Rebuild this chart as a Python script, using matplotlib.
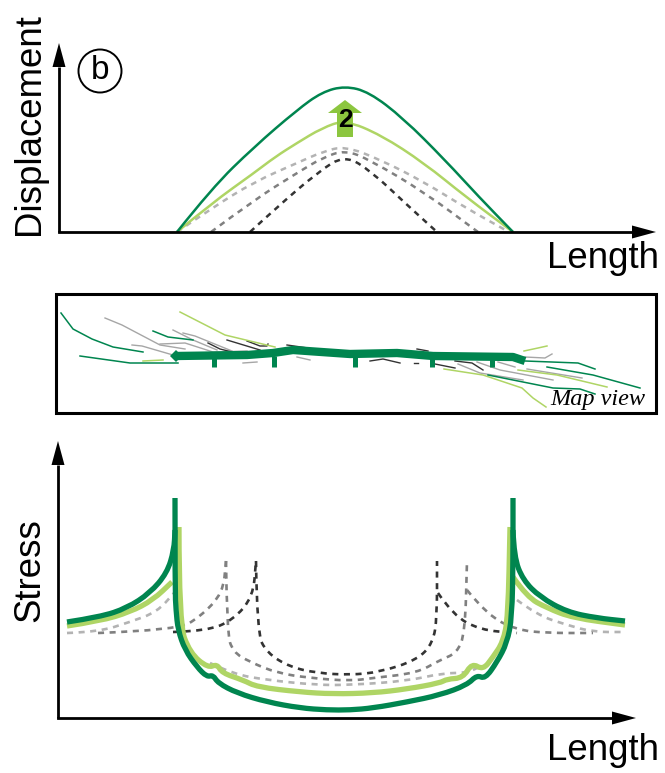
import matplotlib
matplotlib.use('Agg')
import matplotlib.pyplot as plt
from matplotlib.path import Path
from matplotlib.patches import PathPatch, Ellipse, Polygon

plt.rcParams['font.family'] = ['Liberation Sans', 'DejaVu Sans']

DARK_GREEN = '#00854F'
LIGHT_GREEN = '#AFD565'
ARROW_GREEN = '#8CC63F'
GRAY_1 = '#B3B3B3'
GRAY_2 = '#808080'
GRAY_3 = '#333333'

# Desplazamiento (x, fila en la imagen)
disp_dark_x = [177, 212, 254, 297, 322, 345, 369, 403, 445, 479, 513]
disp_dark_y = [232, 188, 147, 110, 92, 86, 92, 118, 160, 197, 232]
disp_light_x = [177, 212, 254, 275, 297, 322, 345, 381, 424, 466, 513]
disp_light_y = [232, 203, 173, 157, 143, 128, 120, 135, 163, 197, 232]
disp_g1_x = [177, 212, 254, 297, 322, 345, 381, 424, 466, 509]
disp_g1_y = [232, 208, 182, 163, 152, 146, 160, 182, 208, 232]
disp_g2_x = [211, 254, 297, 322, 345, 370, 424, 478]
disp_g2_y = [232, 200, 173, 158, 150, 160, 192, 232]
disp_g3_x = [250, 275, 318, 345, 372, 405, 437]
disp_g3_y = [232, 209, 172, 155, 172, 203, 232]

# Esfuerzo
st_dark_x = [67, 100, 127, 150, 167, 174, 175]
st_dark_y = [622, 617, 608, 593, 573, 550, 530]
st_dark2_x = [175, 175, 176, 178, 185, 197, 207, 213, 218, 237, 267, 300, 327, 350,
              373, 407, 440, 467, 477, 485, 497, 507, 512, 513, 513]
st_dark2_y = [498, 590, 610, 630, 650, 667, 677, 675, 683, 693, 702, 708, 710, 710,
              708, 702, 695, 685, 675, 679, 662, 643, 617, 560, 498]
st_dark3_x = [513, 514, 523, 540, 567, 597, 625]
st_dark3_y = [530, 557, 580, 597, 612, 618, 621]
st_light_x = [67, 100, 130, 153, 172]
st_light_y = [626, 621, 612, 600, 582]
st_light2_x = [179, 179, 190, 208, 217, 222, 243, 257, 300, 333, 373, 407, 440, 447, 463, 472, 483, 493, 503, 508,
               510]
st_light2_y = [527, 623, 653, 668, 664, 673, 680, 687, 692, 694, 693, 689, 683, 679, 678, 663, 670, 657, 642, 617,
               527]
st_light3_x = [513, 527, 547, 573, 625]
st_light3_y = [577, 597, 608, 618, 625]
st_g1_x = [67, 98, 130, 157, 174]
st_g1_y = [633, 632, 622, 612, 593]
st_g1b_x = [210, 233, 267, 317, 350, 407, 443, 467, 483]
st_g1b_y = [663, 674, 680, 685, 685, 681, 673, 673, 665]
st_g1c_x = [517, 537, 567, 593, 623]
st_g1c_y = [600, 615, 625, 632, 632]
st_g2_x = [98, 177, 200, 223, 226]
st_g2_y = [633, 630, 617, 593, 561]
st_g2m_x = [226, 227, 233, 250, 277, 310, 350, 373, 417, 440, 457, 465, 467]
st_g2m_y = [561, 633, 652, 662, 673, 678, 681, 678, 673, 660, 653, 633, 561]
st_g2b_x = [467, 487, 517, 547, 593]
st_g2b_y = [590, 615, 630, 633, 633]
st_g3_x = [173, 207, 233, 253, 256]
st_g3_y = [632, 631, 620, 597, 561]
st_g3m_x = [256, 257, 267, 290, 317, 350, 380, 417, 433, 437, 437]
st_g3m_y = [561, 633, 653, 667, 673, 675, 672, 660, 643, 617, 561]
st_g3b_x = [438, 453, 480, 517]
st_g3b_y = [593, 615, 630, 633]

# Trazas del mapa
map_main_x = [176, 247, 273, 293, 350, 397, 433, 513, 525]
map_main_y = [356, 355, 353, 350, 354, 353, 356, 357, 361]
map_ticks_x = [214, 274, 355, 432, 492]
map_dark_green = [
    ([61, 73, 92, 113, 143], [313, 329, 339, 347, 352]),
    ([80, 130, 178], [356, 363, 363]),
    ([153, 168, 193], [331, 337, 340]),
    ([525, 578, 595], [361, 363, 369]),
    ([547, 593, 640], [367, 375, 388]),
    ([488, 553, 580, 595], [375, 388, 389, 394]),
]
map_light_green = [
    ([180, 225, 275], [312, 335, 347]),
    ([143, 163], [361, 360]),
    ([524, 538, 547], [351, 348, 346]),
    ([518, 557, 607], [370, 375, 387]),
    ([444, 483, 522, 533, 546], [369, 375, 388, 398, 407]),
]
map_gray = [
    ([105, 122, 160, 185], [318, 325, 345, 349]),
    ([132, 142, 173], [345, 346, 355]),
    ([160, 185, 213, 247], [344, 343, 352, 351]),
    ([173, 193, 217], [330, 340, 350]),
    ([183, 195, 232], [333, 336, 351]),
    ([243, 257], [363, 362]),
    ([297, 310], [357, 360]),
    ([525, 545, 552], [357, 358, 354]),
    ([527, 582], [369, 378]),
    ([477, 500, 553], [362, 370, 380]),
    ([458, 480, 523], [364, 373, 380]),
    ([498, 515], [362, 367]),
]
map_black = [
    ([208, 220, 232], [343, 349, 352]),
    ([227, 260], [340, 350]),
    ([247, 260, 267, 268], [341, 346, 346, 344]),
    ([287, 308], [345, 348]),
    ([417, 428], [349, 351]),
    ([370, 383, 400], [361, 359, 363]),
    ([414, 418], [363, 363]),
    ([435, 455], [364, 368]),
    ([455, 472, 483], [361, 363, 370]),
]


def panel(x0, x1, top, bottom):
    # ejes en coordenadas de la imagen (665x773)
    ax = fig.add_axes([x0 / 665, 1 - bottom / 773, (x1 - x0) / 665, (bottom - top) / 773])
    ax.set_xlim(x0, x1)
    ax.set_ylim(bottom, top)
    ax.axis('off')
    return ax


def smooth(ax, xs, ys, color, lw, dashed=False):
    # curva cuadratica que usa los puntos leidos como control
    pts = list(zip(xs, ys))
    verts = [pts[0]]
    codes = [Path.MOVETO]
    for i in range(1, len(pts) - 1):
        mid = ((pts[i][0] + pts[i + 1][0]) / 2, (pts[i][1] + pts[i + 1][1]) / 2)
        verts += [pts[i], mid]
        codes += [Path.CURVE3, Path.CURVE3]
    verts.append(pts[-1])
    codes.append(Path.LINETO)
    ls = (0, (2.3, 2.1)) if dashed else '-'
    ax.add_patch(PathPatch(Path(verts, codes), fill=False, edgecolor=color, lw=lw, ls=ls,
                           capstyle='butt', joinstyle='round', clip_on=False))


def axis_arrows(ax, x0, y0, xtip, ytip, head=24, half=6.5):
    ax.plot([x0, xtip - head], [y0, y0], color='black', lw=2, clip_on=False, solid_capstyle='projecting')
    ax.plot([x0, x0], [y0, ytip + head], color='black', lw=2, clip_on=False, solid_capstyle='butt')
    ax.add_patch(Polygon([(xtip, y0), (xtip - head, y0 - half), (xtip - head, y0 + half)], fc='black', ec='none',
                         clip_on=False))
    ax.add_patch(Polygon([(x0, ytip), (x0 - half, ytip + head), (x0 + half, ytip + head)], fc='black', ec='none',
                         clip_on=False))


fig = plt.figure(figsize=(6.65, 7.73), dpi=100)

# Panel superior
ax1 = panel(59, 660, 40, 240)
smooth(ax1, disp_g3_x, disp_g3_y, GRAY_3, 1.8, True)
smooth(ax1, disp_g2_x, disp_g2_y, GRAY_2, 1.8, True)
smooth(ax1, disp_g1_x, disp_g1_y, GRAY_1, 1.8, True)
smooth(ax1, disp_light_x, disp_light_y, LIGHT_GREEN, 1.8)
smooth(ax1, disp_dark_x, disp_dark_y, DARK_GREEN, 1.8)
ax1.add_patch(Polygon([(337, 137), (353, 137), (353, 113), (362, 113), (345, 100), (328, 113), (337, 113)],
                      closed=True, fc=ARROW_GREEN, ec='none'))
ax1.text(345, 120, '2', fontsize=19, fontweight='bold', ha='center', va='center')
ax1.add_patch(Ellipse((100, 71), 43, 43, fc='white', ec='black', lw=1.4, clip_on=False))
ax1.text(100, 71, 'b', fontsize=24, ha='center', va='center')
axis_arrows(ax1, 59, 232, 656, 43)
fig.text(30 / 665, 1 - 124 / 773, 'Displacement', fontsize=26.4, rotation=90, ha='center', va='center')
fig.text(659 / 665, 1 - 258 / 773, 'Length', fontsize=26.4, ha='right', va='center')

# Mapa
ax2 = panel(56, 656, 294, 413)
for xs, ys in map_gray:
    ax2.plot(xs, ys, color='#A6A6A6', lw=1)
for xs, ys in map_black:
    ax2.plot(xs, ys, color=GRAY_3, lw=1)
for xs, ys in map_light_green:
    ax2.plot(xs, ys, color=LIGHT_GREEN, lw=1.1)
for xs, ys in map_dark_green:
    ax2.plot(xs, ys, color=DARK_GREEN, lw=1.1)
ax2.plot(map_main_x, map_main_y, color=DARK_GREEN, lw=6, solid_capstyle='butt', solid_joinstyle='round')
ax2.plot(map_main_x[0], map_main_y[0], marker='D', ms=6, color=DARK_GREEN, mew=0)
for tx in map_ticks_x:
    ax2.plot([tx, tx], [356, 367], color=DARK_GREEN, lw=3.6, solid_capstyle='butt')
ax2.text(598, 400, 'Map view', fontsize=17.5, family=['Liberation Serif'], style='italic', ha='center', va='center')
ax2.add_patch(plt.Rectangle((56, 294), 600, 119, fill=False, ec='black', lw=2.2, clip_on=False))

# Panel de esfuerzo
ax3 = panel(58, 640, 440, 722)
axis_arrows(ax3, 58, 718, 636, 441)
for xs, ys in [(st_g1_x, st_g1_y), (st_g1b_x, st_g1b_y), (st_g1c_x, st_g1c_y)]:
    smooth(ax3, xs, ys, GRAY_1, 1.9, True)
for xs, ys in [(st_g2_x, st_g2_y), (st_g2m_x, st_g2m_y), (st_g2b_x, st_g2b_y)]:
    smooth(ax3, xs, ys, GRAY_2, 1.9, True)
for xs, ys in [(st_g3_x, st_g3_y), (st_g3m_x, st_g3m_y), (st_g3b_x, st_g3b_y)]:
    smooth(ax3, xs, ys, GRAY_3, 1.9, True)
for xs, ys in [(st_light_x, st_light_y), (st_light2_x, st_light2_y), (st_light3_x, st_light3_y)]:
    smooth(ax3, xs, ys, LIGHT_GREEN, 3.8)
for xs, ys in [(st_dark_x, st_dark_y), (st_dark2_x, st_dark2_y), (st_dark3_x, st_dark3_y)]:
    smooth(ax3, xs, ys, DARK_GREEN, 3.8)
fig.text(30 / 665, 1 - 570 / 773, 'Stress', fontsize=26.4, rotation=90, ha='center', va='center')
fig.text(659 / 665, 1 - 750 / 773, 'Length', fontsize=26.4, ha='right', va='center')

fig.savefig('out.png', dpi=100)
